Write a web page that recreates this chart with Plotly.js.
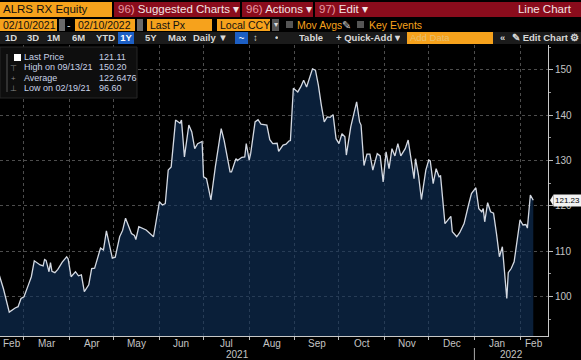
<!DOCTYPE html>
<html><head><meta charset="utf-8">
<script src="https://cdn.plot.ly/plotly-3.0.1.min.js"></script>
<style>
html,body{margin:0;padding:0;background:#000;width:581px;height:360px;overflow:hidden;font-family:"Liberation Sans",Arial,sans-serif;}
#chart{position:absolute;left:0;top:0;width:581px;height:360px;}
.b{position:absolute;white-space:nowrap;box-sizing:border-box;overflow:hidden;}
.r1{top:2px;height:15px;font-size:11.5px;line-height:15px;}
.r2{top:19px;height:12px;font-size:10.5px;line-height:12px;}
.r3{top:32px;height:12px;font-size:9.5px;line-height:12px;color:#d8d8d8;font-weight:bold;}
.or{background:#f6a21c;color:#111;padding-left:3px;}
.rd{background:#8a0c1c;color:#f3e4e4;padding-left:4px;}
.ic{background:#6a6a6a;}
.ot{color:#f6a21c;}
.num{color:#e59aa3;}
</style></head>
<body>
<div id="chart"></div>
<!-- toolbar -->
<div class="b r1 or" style="left:0;width:112px;">ALRS RX Equity</div>
<div class="b r1 rd" style="left:114px;width:126px;"><span class="num">96)</span> Suggested Charts ▾</div>
<div class="b r1 rd" style="left:242px;width:71px;"><span class="num">96)</span> Actions ▾</div>
<div class="b r1 rd" style="left:315px;width:266px;"><span class="num">97)</span> Edit ▾<span style="position:absolute;right:10px;">Line Chart</span></div>

<div class="b r2 or" style="left:0;width:57px;">02/10/2021</div>
<div class="b r2 ic" style="left:59px;width:6px;"></div>
<div class="b r2" style="left:67px;width:6px;color:#ddd;">-</div>
<div class="b r2 or" style="left:75px;width:60px;">02/10/2022</div>
<div class="b r2 ic" style="left:137px;width:6px;"></div>
<div class="b r2 or" style="left:147px;width:65px;">Last Px</div>
<div class="b r2 or" style="left:217px;width:53px;">Local CCY</div>
<div class="b r2" style="left:272px;width:7px;background:#555;color:#ddd;font-size:8px;text-align:center;">▾</div>
<div class="b" style="left:286px;top:21px;width:7px;height:7px;background:#555;"></div>
<div class="b r2 ot" style="left:297px;">Mov Avgs</div>
<div class="b r2" style="left:342px;color:#ccc;">✎</div>
<div class="b" style="left:357px;top:21px;width:7px;height:7px;background:#555;"></div>
<div class="b r2 ot" style="left:369px;">Key Events</div>

<div class="b" style="left:0;top:32px;width:581px;height:12px;background:#1b1b1b;"></div>
<div class="b r3" style="left:5px;">1D</div>
<div class="b r3" style="left:27px;">3D</div>
<div class="b r3" style="left:47px;">1M</div>
<div class="b r3" style="left:72px;">6M</div>
<div class="b r3" style="left:96px;">YTD</div>
<div class="b r3" style="left:118px;width:16px;background:#1d5fc4;color:#fff;text-align:center;">1Y</div>
<div class="b r3" style="left:145px;">5Y</div>
<div class="b r3" style="left:168px;">Max</div>
<div class="b r3" style="left:193px;">Daily ▼</div>
<div class="b r3" style="left:235px;width:13px;background:#1d5fc4;color:#fff;text-align:center;">~</div>
<div class="b r3" style="left:253px;">↕</div>
<div class="b r3" style="left:275px;">•</div>
<div class="b r3" style="left:299px;">Table</div>
<div class="b r3" style="left:336px;">+ Quick-Add ▾</div>
<div class="b r3" style="left:407px;width:86px;background:#f6a21c;color:#e8c070;font-weight:normal;padding-left:3px;">Add Data</div>
<div class="b r3" style="left:500px;">«</div>
<div class="b r3" style="left:512px;">✎ Edit Chart</div>
<div class="b r3" style="left:570px;">⚙</div>

<script>
// ---------- data ----------
const dates = [
'2021-02-10','2021-02-12','2021-02-15','2021-02-17','2021-02-19','2021-02-23','2021-02-25','2021-02-27',
'2021-03-01','2021-03-04','2021-03-06','2021-03-08','2021-03-10','2021-03-12','2021-03-14','2021-03-15','2021-03-16','2021-03-18','2021-03-19','2021-03-20','2021-03-22','2021-03-24','2021-03-27','2021-03-30','2021-03-31',
'2021-04-02','2021-04-05','2021-04-07','2021-04-09','2021-04-11','2021-04-14','2021-04-16','2021-04-18','2021-04-22','2021-04-24','2021-04-26','2021-04-30',
'2021-05-02','2021-05-05','2021-05-07','2021-05-09','2021-05-11','2021-05-13','2021-05-15','2021-05-16','2021-05-18','2021-05-23','2021-05-28','2021-05-31',
'2021-06-01','2021-06-03','2021-06-05','2021-06-07','2021-06-09','2021-06-12','2021-06-15','2021-06-16','2021-06-18','2021-06-21','2021-06-23','2021-06-25','2021-06-27','2021-06-30',
'2021-07-01','2021-07-03','2021-07-06','2021-07-09','2021-07-13','2021-07-15','2021-07-19','2021-07-20','2021-07-23','2021-07-24','2021-07-27','2021-07-29','2021-07-30',
'2021-08-01','2021-08-02','2021-08-05','2021-08-07','2021-08-09','2021-08-13','2021-08-15','2021-08-17','2021-08-20','2021-08-21','2021-08-24','2021-08-26','2021-08-28','2021-08-29','2021-08-31',
'2021-09-03','2021-09-05','2021-09-07','2021-09-09','2021-09-13','2021-09-15','2021-09-17','2021-09-19','2021-09-21','2021-09-23','2021-09-25','2021-09-27','2021-09-29',
'2021-10-01','2021-10-03','2021-10-05','2021-10-06','2021-10-09','2021-10-13','2021-10-15','2021-10-16','2021-10-18','2021-10-20','2021-10-22','2021-10-24','2021-10-27','2021-10-29','2021-10-31',
'2021-11-02','2021-11-04','2021-11-06','2021-11-08','2021-11-10','2021-11-12','2021-11-15','2021-11-17','2021-11-21','2021-11-22','2021-11-24','2021-11-26','2021-11-29',
'2021-12-01','2021-12-02','2021-12-04','2021-12-06','2021-12-08','2021-12-09','2021-12-12','2021-12-14','2021-12-16','2021-12-17','2021-12-20','2021-12-22','2021-12-25','2021-12-28','2021-12-30',
'2022-01-02','2022-01-04','2022-01-06','2022-01-07','2022-01-08','2022-01-10','2022-01-12','2022-01-14','2022-01-16','2022-01-18','2022-01-20','2022-01-23','2022-01-24','2022-01-26','2022-01-28','2022-01-30',
'2022-02-01','2022-02-03','2022-02-05','2022-02-06','2022-02-08','2022-02-10'];

const prices = [
105.4,105.0,101.8,99.3,96.6,97.5,97.8,99.6,
100.0,102.6,104.4,107.9,107.4,107.0,106.8,108.2,108.0,105.5,107.5,105.6,105.3,106.0,107.6,108.8,108.3,
104.4,105.5,104.6,104.8,101.1,102.6,106.2,106.3,110.7,110.3,114.5,108.5,
108.7,113.2,114.6,117.3,115.4,113.9,113.5,112.6,115.4,114.7,113.2,119.1,
120.9,120.2,120.5,127.9,128.6,138.9,138.2,138.9,130.8,137.8,136.3,132.6,133.7,134.2,
126.4,126.0,121.3,128.6,137.0,134.4,127.5,127.5,130.4,130.0,130.7,130.8,133.7,
130.1,131.5,138.5,139.0,138.0,137.8,134.6,133.7,133.8,132.0,133.4,133.6,134.3,134.4,145.9,
145.1,146.2,147.7,146.2,150.2,149.9,146.6,142.2,138.5,139.6,139.5,140.1,134.8,
133.7,135.9,135.2,131.2,137.4,142.9,138.5,137.8,128.9,131.4,131.4,127.9,131.5,131.0,125.3,
131.9,128.2,132.6,131.0,133.7,131.0,132.6,134.5,126.0,130.4,126.8,121.4,127.9,
130.1,129.9,124.9,128.2,126.4,126.6,116.1,117.0,117.7,114.3,113.2,114.1,116.1,120.2,122.7,
124.0,119.4,118.7,119.4,116.5,120.7,118.7,118.4,113.9,108.8,111.0,99.6,105.3,106.2,107.7,112.5,
116.9,115.8,115.9,115.1,122.4,121.23];

const monthLabels = ['Feb','Mar','Apr','May','Jun','Jul','Aug','Sep','Oct','Nov','Dec','Jan','Feb'];
const yearLabels = ['2021','2022'];
const statLabels = ['Last Price','High on 09/13/21','Average','Low on 02/19/21'];
const statValues = ['121.11','150.20','122.6476','96.60'];
const statIcons = ['','⊤','+','⊥'];
const lastTag = '121.23';

// ---------- layout helpers ----------
const W = 581, H = 360, ML = 0, MR = 33, MT = 45, MB = 24;
const PW = W - ML - MR, PH = H - MT - MB;
const px = x => (x - ML) / PW;
const py = y => (MT + PH - y) / PH;
const xStartMs = Date.UTC(2021,1,12,17);
const xEndMs = Date.UTC(2022,1,20,0);
const fmt = ms => { const d = new Date(ms); const p = n => String(n).padStart(2,'0');
  return d.getUTCFullYear()+'-'+p(d.getUTCMonth()+1)+'-'+p(d.getUTCDate())+' '+p(d.getUTCHours())+':'+p(d.getUTCMinutes())+':00'; };

const monthStarts = [];
const monthMids = [];
for (let i = 0; i < monthLabels.length; i++) {
  const s = Date.UTC(2021, 1 + i, 1), e = Date.UTC(2021, 2 + i, 1);
  if (s > xStartMs) monthStarts.push(fmt(s));
  const a = Math.max(s, xStartMs), b = Math.min(e, xEndMs);
  monthMids.push(fmt((a + b) / 2));
}
const yearBoundary = Date.UTC(2022,0,1);
const yearMids = [fmt((xStartMs + yearBoundary)/2), fmt((yearBoundary + xEndMs)/2)];

const txtFont = {family:'"Liberation Sans", Arial, sans-serif', size:10, color:'#c4c4c4'};
const annotations = [];
monthLabels.forEach((m,i) => annotations.push({x:monthMids[i], xref:'x', y:py(343.5), yref:'paper',
  text:m, showarrow:false, xanchor:'center', yanchor:'middle', font:txtFont}));
yearLabels.forEach((yl,i) => annotations.push({x:yearMids[i], xref:'x', y:py(354), yref:'paper',
  text:yl, showarrow:false, xanchor:'center', yanchor:'middle', font:txtFont}));

const statFont = {family:'"Liberation Sans", Arial, sans-serif', size:9, color:'#c9d3e8'};
statLabels.forEach((s,i) => {
  const yy = py(57.5 + i*10);
  annotations.push({x:px(22), xref:'paper', y:yy, yref:'paper', text:s, showarrow:false, xanchor:'left', yanchor:'middle', font:statFont});
  annotations.push({x:px(97), xref:'paper', y:yy, yref:'paper', text:statValues[i], showarrow:false, xanchor:'left', yanchor:'middle', font:statFont});
  if (statIcons[i]) annotations.push({x:px(13), xref:'paper', y:yy, yref:'paper', text:statIcons[i], showarrow:false, xanchor:'center', yanchor:'middle', font:{size:8, color:'#888'}});
});

const lastVal = prices[prices.length-1];
annotations.push({x:1, xref:'paper', xanchor:'left', xshift:5, y:lastVal, yref:'y', yanchor:'middle',
  text:lastTag, showarrow:false, bgcolor:'#f2f2f2', font:{family:'"Liberation Sans", Arial, sans-serif', size:8, color:'#000'}, borderpad:1});

const shapes = [
  {type:'rect', xref:'paper', yref:'paper', x0:px(0), x1:px(137), y0:py(98), y1:py(47), fillcolor:'#0e0e0e', line:{color:'#262626', width:1}, layer:'above'},
  {type:'line', xref:'paper', yref:'paper', x0:px(7), x1:px(7), y0:py(92), y1:py(54), line:{color:'#555', width:1}, layer:'above'},
  {type:'rect', xref:'paper', yref:'paper', x0:px(14), x1:px(21), y0:py(61), y1:py(54), fillcolor:'#ffffff', line:{width:0}, layer:'above'},
  {type:'line', xref:'x', yref:'paper', x0:fmt(yearBoundary), x1:fmt(yearBoundary), y0:py(348), y1:py(360), line:{color:'#aaa', width:1}},
  {type:'path', xref:'paper', yref:'y', path:`M ${1+px(2)},${lastVal} L ${1+px(5.5)},${lastVal+1.3} L ${1+px(5.5)},${lastVal-1.3} Z`, fillcolor:'#f2f2f2', line:{width:0}}
];

const trace = {
  x: dates, y: prices, type:'scatter', mode:'lines', fill:'tozeroy',
  fillcolor:'rgba(16,50,92,0.62)', line:{color:'#d4d9e2', width:1.3}, hoverinfo:'skip'
};

const layout = {
  width:W, height:H, paper_bgcolor:'#000', plot_bgcolor:'#000',
  margin:{l:ML, r:MR, t:MT, b:MB, pad:0}, showlegend:false,
  xaxis:{type:'date', range:[fmt(xStartMs), fmt(xEndMs)], tickmode:'array', tickvals:monthStarts,
    showticklabels:false, ticks:'outside', ticklen:3, tickcolor:'#bbb',
    showgrid:true, gridcolor:'#4d4d4d', griddash:'dot', gridwidth:1,
    showline:true, linecolor:'#c8c8c8', linewidth:1, zeroline:false, fixedrange:true},
  yaxis:{side:'right', range:[91.34,155.44], tickmode:'linear', tick0:0, dtick:10,
    ticks:'outside', ticklen:4, tickcolor:'#bbb', tickfont:txtFont,
    showgrid:true, gridcolor:'#4d4d4d', griddash:'dot', gridwidth:1,
    showline:true, linecolor:'#c8c8c8', linewidth:1, zeroline:false, fixedrange:true,
    minor:{tickmode:'linear', tick0:5, dtick:10, ticks:'outside', ticklen:2, tickcolor:'#999', showgrid:false}},
  annotations: annotations, shapes: shapes
};

Plotly.newPlot('chart', [trace], layout, {displayModeBar:false, staticPlot:true});
</script>
</body></html>
